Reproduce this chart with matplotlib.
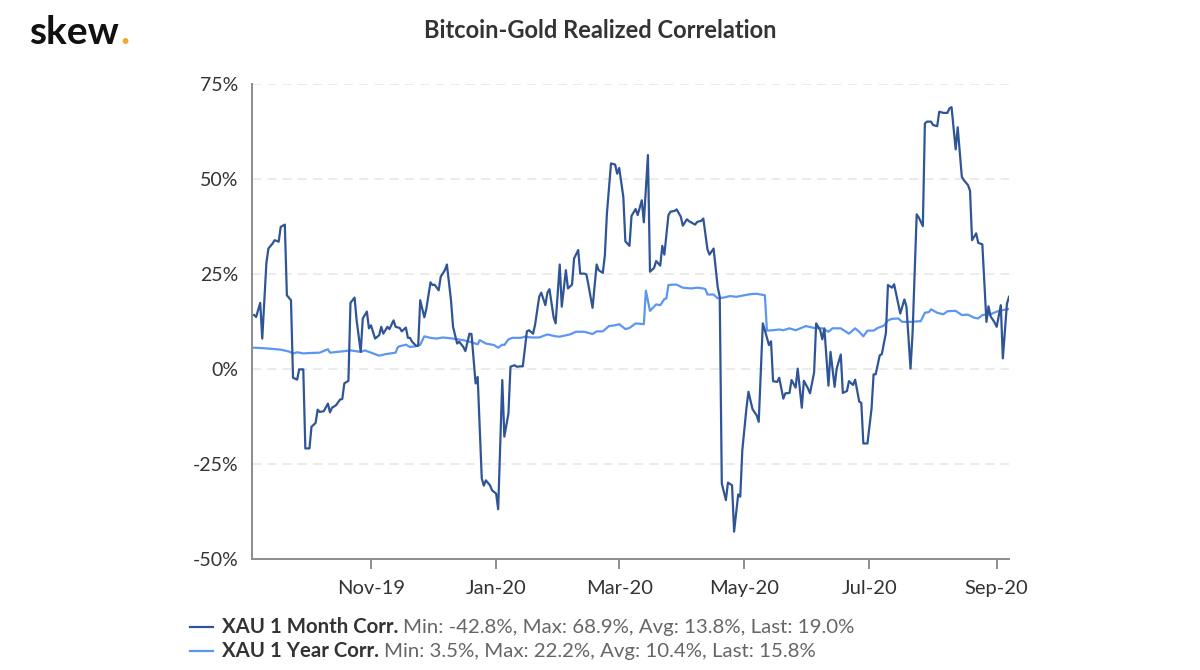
import matplotlib
matplotlib.use("Agg")
import matplotlib.pyplot as plt
import matplotlib.dates as mdates
from matplotlib.lines import Line2D
import pandas as pd

# ---------------- data ----------------
START_DATE = "2019-09-04"   # day 0 of the series

month_days = [
    1, 2, 4, 5, 7, 8, 10, 11, 13, 14,
    16, 17, 19, 20, 22, 23, 25, 26, 28, 29,
    31, 32, 33, 35, 37, 38, 39, 41, 43, 44,
    45, 47, 48, 50, 51, 53, 54, 56, 57, 58,
    60, 62, 63, 64, 66, 67, 69, 70, 72, 73,
    75, 76, 77, 78, 80, 81, 82, 84, 85, 87,
    88, 89, 91, 92, 94, 95, 97, 98, 100, 101,
    103, 104, 106, 107, 109, 110, 112, 113, 114, 116,
    117, 119, 120, 122, 123, 125, 126, 128, 129, 131,
    132, 134, 135, 137, 138, 140, 141, 143, 144, 145,
    147, 148, 150, 151, 153, 154, 156, 157, 159, 160,
    162, 163, 164, 166, 168, 169, 171, 172, 173, 175,
    177, 178, 179, 181, 182, 184, 185, 187, 188, 190,
    191, 193, 194, 196, 197, 199, 200, 201, 203, 204,
    206, 207, 209, 210, 212, 213, 216, 217, 219, 220,
    222, 223, 225, 227, 228, 229, 231, 232, 234, 235,
    237, 238, 239, 241, 242, 244, 246, 247, 249, 250,
    252, 253, 254, 256, 257, 259, 260, 262, 263, 265,
    266, 268, 269, 271, 272, 274, 275, 277, 278, 279,
    281, 282, 284, 285, 287, 288, 290, 291, 293, 294,
    296, 297, 298, 300, 302, 303, 304, 306, 307, 309,
    310, 312, 313, 315, 316, 318, 319, 321, 322, 324,
    325, 327, 328, 329, 331, 332, 334, 335, 337, 339,
    340, 341, 343, 344, 346, 347, 349, 350, 351, 353,
    354, 356, 358, 359, 360, 362, 363, 365, 366, 368,
    369,
]
month_vals = [
    14.2, 13.7, 17.4, 8.0, 27.8, 31.7, 33.0, 33.9, 33.5, 37.4,
    38.0, 19.4, 18.1, -2.3, -2.8, -0.1, -0.1, -20.9, -20.9, -15.2,
    -14.2, -10.7, -11.3, -11.1, -9.1, -11.4, -10.2, -9.5, -8.0, -7.9,
    -3.8, -3.1, 17.4, 18.8, 12.8, 4.5, 13.3, 15.1, 10.7, 11.5,
    8.0, 8.9, 11.1, 9.3, 11.1, 10.5, 12.8, 11.1, 10.8, 9.9,
    10.9, 8.2, 8.2, 7.2, 6.1, 6.1, 18.1, 13.6, 15.9, 22.8,
    22.1, 22.2, 20.7, 24.3, 26.0, 27.5, 18.1, 11.1, 6.7, 7.2,
    5.8, 4.7, 9.3, 9.2, -3.8, -2.1, -28.8, -30.7, -29.3, -30.6,
    -31.9, -32.8, -36.9, -2.9, -17.8, -11.7, 0.6, 1.0, 0.6, 0.7,
    0.7, 9.9, 10.2, 9.3, 11.7, 19.0, 20.1, 16.8, 20.1, 21.0,
    13.7, 12.0, 27.5, 16.4, 26.0, 21.2, 22.2, 29.1, 31.3, 25.1,
    25.1, 24.9, 22.1, 16.1, 27.5, 26.0, 25.3, 29.9, 40.9, 54.1,
    53.8, 51.4, 52.9, 45.3, 33.6, 32.4, 40.3, 42.1, 40.5, 44.4,
    38.6, 56.3, 25.6, 26.6, 28.4, 27.2, 32.4, 30.1, 40.5, 41.4,
    41.6, 42.0, 40.1, 37.7, 39.4, 38.9, 38.0, 38.7, 39.0, 39.6,
    31.5, 30.1, 31.7, 21.6, 19.0, -30.1, -34.5, -29.9, -30.6, -42.8,
    -33.0, -33.6, -21.4, -10.4, -6.0, -10.6, -12.2, -13.9, 12.0, 10.2,
    6.3, 7.3, -3.2, -3.4, -2.3, -7.8, -6.4, -6.3, -2.9, -4.9,
    0.1, -10.2, -3.1, -5.1, -6.4, -0.9, 12.0, 10.2, 7.8, 10.7,
    -4.4, 4.5, -4.7, 0.1, 3.8, -6.3, -5.8, -3.2, -4.2, -2.8,
    -8.6, -8.9, -19.6, -19.6, -10.4, -1.4, -1.4, 3.6, 3.9, 9.5,
    22.1, 21.4, 22.3, 17.1, 14.6, 18.3, 16.5, 0.1, 9.5, 40.7,
    39.9, 37.6, 64.6, 65.1, 65.1, 64.2, 63.9, 67.7, 67.4, 67.4,
    68.6, 68.9, 57.8, 63.6, 50.6, 49.7, 48.4, 46.9, 33.9, 35.7,
    33.2, 32.8, 12.4, 16.5, 13.9, 12.2, 11.1, 16.8, 2.8, 17.2,
    19.0,
]

year_days = [
    1, 5, 14, 18, 20, 22, 25, 28, 33, 37,
    38, 45, 48, 53, 55, 60, 62, 65, 70, 71,
    72, 75, 77, 80, 82, 84, 87, 90, 93, 98,
    103, 106, 110, 111, 114, 118, 120, 122, 123, 125,
    127, 131, 133, 136, 140, 144, 148, 150, 155, 158,
    162, 166, 168, 171, 174, 177, 179, 182, 184, 187,
    191, 192, 194, 197, 199, 201, 202, 203, 205, 207,
    210, 214, 217, 220, 221, 222, 225, 227, 230, 233,
    236, 239, 243, 246, 250, 251, 254, 257, 259, 262,
    265, 270, 274, 278, 281, 283, 287, 291, 294, 296,
    298, 300, 303, 305, 308, 310, 312, 315, 317, 321,
    326, 328, 330, 331, 334, 337, 339, 343, 346, 349,
    352, 354, 356, 360, 363, 366, 369,
]
year_vals = [
    5.6, 5.5, 5.1, 4.6, 4.1, 4.4, 4.1, 4.2, 4.3, 5.2,
    4.3, 4.7, 4.9, 4.5, 4.9, 3.9, 3.5, 3.9, 4.3, 5.7,
    6.0, 6.4, 5.8, 6.0, 6.4, 8.6, 8.2, 8.0, 8.3, 8.0,
    7.6, 7.2, 6.5, 7.6, 6.7, 6.3, 5.6, 6.4, 6.3, 7.8,
    8.2, 8.2, 8.5, 8.3, 8.3, 9.1, 8.6, 8.5, 9.1, 9.8,
    9.8, 9.2, 9.9, 9.9, 11.3, 11.5, 11.8, 10.5, 10.8, 12.0,
    11.8, 20.6, 15.3, 17.0, 16.8, 18.4, 18.6, 22.1, 22.2, 22.2,
    21.4, 21.2, 21.4, 21.2, 21.0, 19.6, 19.6, 18.6, 18.8, 19.2,
    19.0, 19.3, 19.7, 19.8, 19.4, 10.1, 10.2, 10.4, 10.2, 10.7,
    10.2, 11.3, 10.8, 10.7, 9.8, 10.7, 10.7, 9.3, 10.7, 9.8,
    8.6, 10.1, 10.1, 10.8, 11.4, 12.8, 13.2, 13.3, 12.4, 12.4,
    12.6, 14.8, 15.0, 15.7, 14.8, 14.4, 15.2, 15.3, 14.2, 14.3,
    13.5, 13.3, 14.2, 14.4, 15.1, 15.5, 15.8,
]

TITLE = "Bitcoin-Gold Realized Correlation"
series_names = ["XAU 1 Month Corr.", "XAU 1 Year Corr."]
series_stats = [
    "Min: -42.8%, Max: 68.9%, Avg: 13.8%, Last: 19.0%",
    "Min: 3.5%, Max: 22.2%, Avg: 10.4%, Last: 15.8%",
]
y_ticks = [-50, -25, 0, 25, 50, 75]
series_colors = ["#2F5597", "#5B97F2"]

assert len(month_days) == len(month_vals)
assert len(year_days) == len(year_vals)

# ---------------- figure ----------------
plt.rcParams["font.family"] = ["Lato", "DejaVu Sans"]

W, H = 1200, 670
fig = plt.figure(figsize=(W / 100, H / 100), dpi=100)
fig.patch.set_facecolor("white")

left, right, top, bottom = 252, 1009, 84, 559
ax = fig.add_axes([left / W, 1 - bottom / H, (right - left) / W, (bottom - top) / H])

start = pd.Timestamp(START_DATE)
m_dates = start + pd.to_timedelta(month_days, unit="D")
y_dates = start + pd.to_timedelta(year_days, unit="D")

ax.plot(y_dates, year_vals, color=series_colors[1], lw=1.6, zorder=3,
        solid_joinstyle="round")
ax.plot(m_dates, month_vals, color=series_colors[0], lw=1.6, zorder=4,
        solid_joinstyle="round")

ax.set_xlim(start, start + pd.Timedelta(days=369))
ax.set_ylim(-50, 75)
ax.set_yticks(y_ticks)
ax.yaxis.set_major_formatter(matplotlib.ticker.FuncFormatter(lambda v, p: f"{v:.0f}%"))

ax.xaxis.set_major_locator(mdates.MonthLocator(bymonth=[1, 3, 5, 7, 9, 11]))
ax.xaxis.set_major_formatter(mdates.DateFormatter("%b-%y"))

for v in y_ticks:
    if v != -50:
        ax.axhline(v, color="#E6E6E6", lw=1.1, linestyle=(0, (6, 4)), zorder=1)

for s in ["top", "right"]:
    ax.spines[s].set_visible(False)
for s in ["left", "bottom"]:
    ax.spines[s].set_color("#8C8C8C")
    ax.spines[s].set_linewidth(1.4)

ax.tick_params(axis="y", length=0, pad=10, labelsize=14, labelcolor="#333333")
ax.tick_params(axis="x", length=7, width=1.4, color="#8C8C8C", direction="out",
               pad=8, labelsize=14.5, labelcolor="#333333")

# title
fig.text(0.5, 1 - 31 / H, TITLE, ha="center", va="center", fontsize=17,
         fontweight="bold", color="#333333")

# logo
logo = fig.text(29 / W, 1 - 44 / H, "skew", ha="left", va="baseline",
                fontsize=28, fontweight="bold", color="#111111")

fig.canvas.draw()
renderer = fig.canvas.get_renderer()
bb = logo.get_window_extent(renderer=renderer)
fig.text(bb.x1 / W + 0.001, 1 - 44 / H, ".", ha="left", va="baseline",
         fontsize=28, fontweight="bold", color="#F0A92E")

# legend
rows_y = [627, 651]
for name, stats, col, yy in zip(series_names, series_stats, series_colors, rows_y):
    yf = 1 - yy / H
    fig.add_artist(Line2D([190 / W, 213 / W], [yf, yf], color=col, lw=1.6,
                          transform=fig.transFigure))
    t = fig.text(222 / W, yf, name, ha="left", va="center", fontsize=14.7,
                 fontweight="bold", color="#333333")
    fig.canvas.draw()
    b = t.get_window_extent(renderer=fig.canvas.get_renderer())
    fig.text(b.x1 / W + 5 / W, yf, stats, ha="left", va="center", fontsize=14.7,
             color="#666666")

fig.savefig("out.png", dpi=100, facecolor="white")
